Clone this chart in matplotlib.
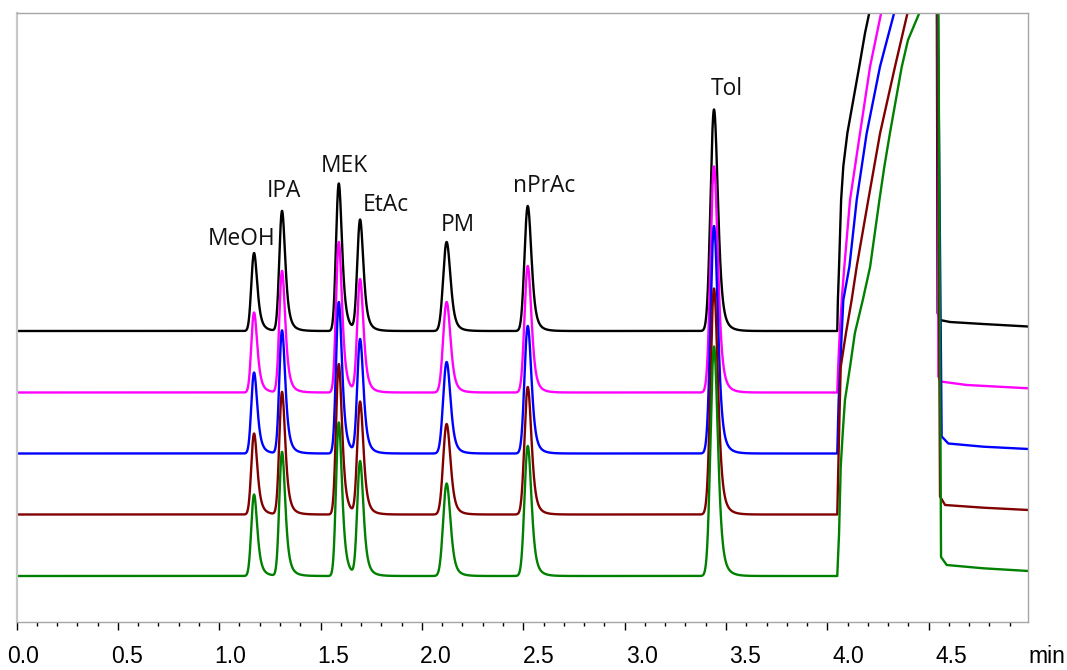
import numpy as np
import matplotlib.pyplot as plt
from matplotlib.transforms import blended_transform_factory

# 5 overlaid runs, signal in arbitrary units, each run shifted up by its offset
COMPOUNDS = ["MeOH", "IPA", "MEK", "EtAc", "PM", "nPrAc", "Tol"]
RET_TIMES = [1.172, 1.310, 1.590, 1.695, 2.122, 2.522, 3.441]
PEAK_SIGMA = [0.0115, 0.0115, 0.0115, 0.012, 0.015, 0.014, 0.015]

HEIGHTS_BLACK = [78, 120, 147.5, 110.5, 89, 125, 221.5]
HEIGHTS_MAGENTA = [80, 121.5, 150.5, 112.5, 90.5, 126.5, 226]
HEIGHTS_BLUE = [81, 123, 151.5, 113.5, 91.5, 127.5, 227.5]
HEIGHTS_BROWN = [81, 122.5, 150.5, 112, 90.5, 127.5, 226]
HEIGHTS_GREEN = [81.5, 124, 153.5, 114, 92.5, 130, 229.5]

# solvent front + back-flush drop, (time, signal)
FRONT_T_BLACK = [4.049, 4.052, 4.058, 4.068, 4.079, 4.099, 4.128, 4.158, 4.186, 4.207,
                 4.261, 4.360, 4.507, 4.537, 4.544, 4.556, 4.605, 4.768, 4.990]
FRONT_H_BLACK = [0, 30, 65, 131, 165, 198, 231, 265, 298, 318,
                 370, 450, 560, 600, 18, 11, 9, 7, 4.5]
FRONT_T_MAGENTA = [4.049, 4.055, 4.062, 4.072, 4.084, 4.112, 4.161, 4.211, 4.265,
                   4.384, 4.523, 4.541, 4.548, 4.559, 4.688, 4.992]
FRONT_H_MAGENTA = [0, 32.5, 62.5, 95, 126, 192.5, 259, 326, 379,
                   480, 620, 640, 16, 11, 7.5, 4.2]
FRONT_T_BLUE = [4.049, 4.056, 4.071, 4.079, 4.109, 4.145, 4.194, 4.260, 4.329,
                4.433, 4.537, 4.564, 4.597, 4.770, 4.992]
FRONT_H_BLUE = [0, 53.5, 120.5, 153.5, 187, 253.5, 320, 387, 440,
                540, 640, 17, 10, 6.8, 4.5]
FRONT_T_BROWN = [4.049, 4.058, 4.066, 4.092, 4.120, 4.145, 4.202, 4.260, 4.334,
                 4.395, 4.482, 4.541, 4.556, 4.581, 4.770, 4.992]
FRONT_H_BROWN = [0, 81.5, 147.5, 181.5, 214.5, 248, 314.5, 381, 448,
                 501, 580, 640, 18, 9.5, 6.8, 4.5]
FRONT_T_GREEN = [4.049, 4.058, 4.066, 4.076, 4.087, 4.112, 4.136, 4.175, 4.211,
                 4.257, 4.281, 4.309, 4.367, 4.398, 4.454, 4.507, 4.546, 4.561,
                 4.589, 4.770, 4.992]
FRONT_H_GREEN = [0, 43, 109, 143, 176, 209, 243, 276, 309,
                 376, 409, 443, 509, 536, 563, 620, 650, 19,
                 11, 7.7, 5]

TRACE_OFFSETS = [245, 183.5, 122.5, 61.5, 0]
TRACE_COLORS = ["black", "#ff00ff", "#0000ff", "#800000", "#008000"]

TICK_LABELS = ["0.0", "0.5", "1.0", "1.5", "2.0", "2.5", "3.0", "3.5", "4.0", "4.5"]

# where the peak names sit (time, signal)
LABEL_POS = [(1.108, 331), (1.320, 379.3), (1.616, 404.5), (1.824, 365.3),
             (2.178, 345.3), (2.602, 384.3), (3.504, 481)]


def peak_shape(sigma, tau=0.012, w=0.2, tau2=0.03, dt=0.0005):
    # gaussian with a two-speed exponential tail, apex scaled to 1 at u=0
    u = np.arange(-0.15, 0.45, dt)
    g = np.exp(-0.5 * (u / sigma) ** 2)
    kt = np.arange(0, 0.35, dt)
    k = (1 - w) * np.exp(-kt / tau) / tau + w * np.exp(-kt / tau2) / tau2
    conv = np.convolve(g, k)[:len(u)]
    conv /= conv.max()
    return u - u[np.argmax(conv)], conv


heights = [HEIGHTS_BLACK, HEIGHTS_MAGENTA, HEIGHTS_BLUE, HEIGHTS_BROWN, HEIGHTS_GREEN]
fronts = [(FRONT_T_BLACK, FRONT_H_BLACK), (FRONT_T_MAGENTA, FRONT_H_MAGENTA),
          (FRONT_T_BLUE, FRONT_H_BLUE), (FRONT_T_BROWN, FRONT_H_BROWN),
          (FRONT_T_GREEN, FRONT_H_GREEN)]

fig = plt.figure(figsize=(10.67, 6.70), dpi=100)
ax = fig.add_axes([16.5 / 1067, 1 - 622 / 670, (1028 - 16.5) / 1067, 609 / 670])

t = np.arange(0, 4.049, 0.0005)
shapes = [peak_shape(s) for s in PEAK_SIGMA]
for hs, (ft, fh), off, col in zip(heights, fronts, TRACE_OFFSETS, TRACE_COLORS):
    y = np.zeros_like(t)
    for t0, h, (du, sh) in zip(RET_TIMES, hs, shapes):
        y += h * np.interp(t - t0, du, sh, left=0, right=0)
    tt = np.concatenate([t, ft])
    yy = np.concatenate([y, fh]) + off
    ax.plot(tt, yy, color=col, lw=1.7, solid_joinstyle="round")

for name, (lx, ly) in zip(COMPOUNDS, LABEL_POS):
    ax.text(lx, ly, name, ha="center", va="baseline", fontsize=16.4,
            family=["Open Sans", "DejaVu Sans"], color="#111111")

ax.set_xlim(0, 4.99)
ax.set_ylim(-46, 563)
ax.set_yticks([])
ax.set_xticks(np.arange(0, 4.51, 0.5))
ax.set_xticks(np.arange(0, 4.95, 0.1), minor=True)
ax.set_xticklabels([])
ax.tick_params(axis="x", which="major", length=6, width=1, color="black", direction="out")
ax.tick_params(axis="x", which="minor", length=3, width=1, color="black", direction="out")

for s in ["top", "right", "bottom"]:
    ax.spines[s].set_color("#a6a6a6")
    ax.spines[s].set_linewidth(1.0)
ax.spines["left"].set_color("#c8c8c8")
ax.spines["left"].set_linewidth(1.6)

# tick labels in the original drift slightly right of their ticks
trans = blended_transform_factory(ax.transData, ax.transAxes)
for i, lab in enumerate(TICK_LABELS):
    v = 0.5 * i
    ax.text(v * 1.0173 + 0.0345, -0.0755, lab, transform=trans, ha="center",
            va="bottom", fontsize=16.5, family="Liberation Sans", clip_on=False)
ax.text(5.081, -0.0755, "min", transform=trans, ha="center", va="bottom",
        fontsize=16.5, family="Liberation Sans", clip_on=False)

fig.savefig("out.png", dpi=100)
